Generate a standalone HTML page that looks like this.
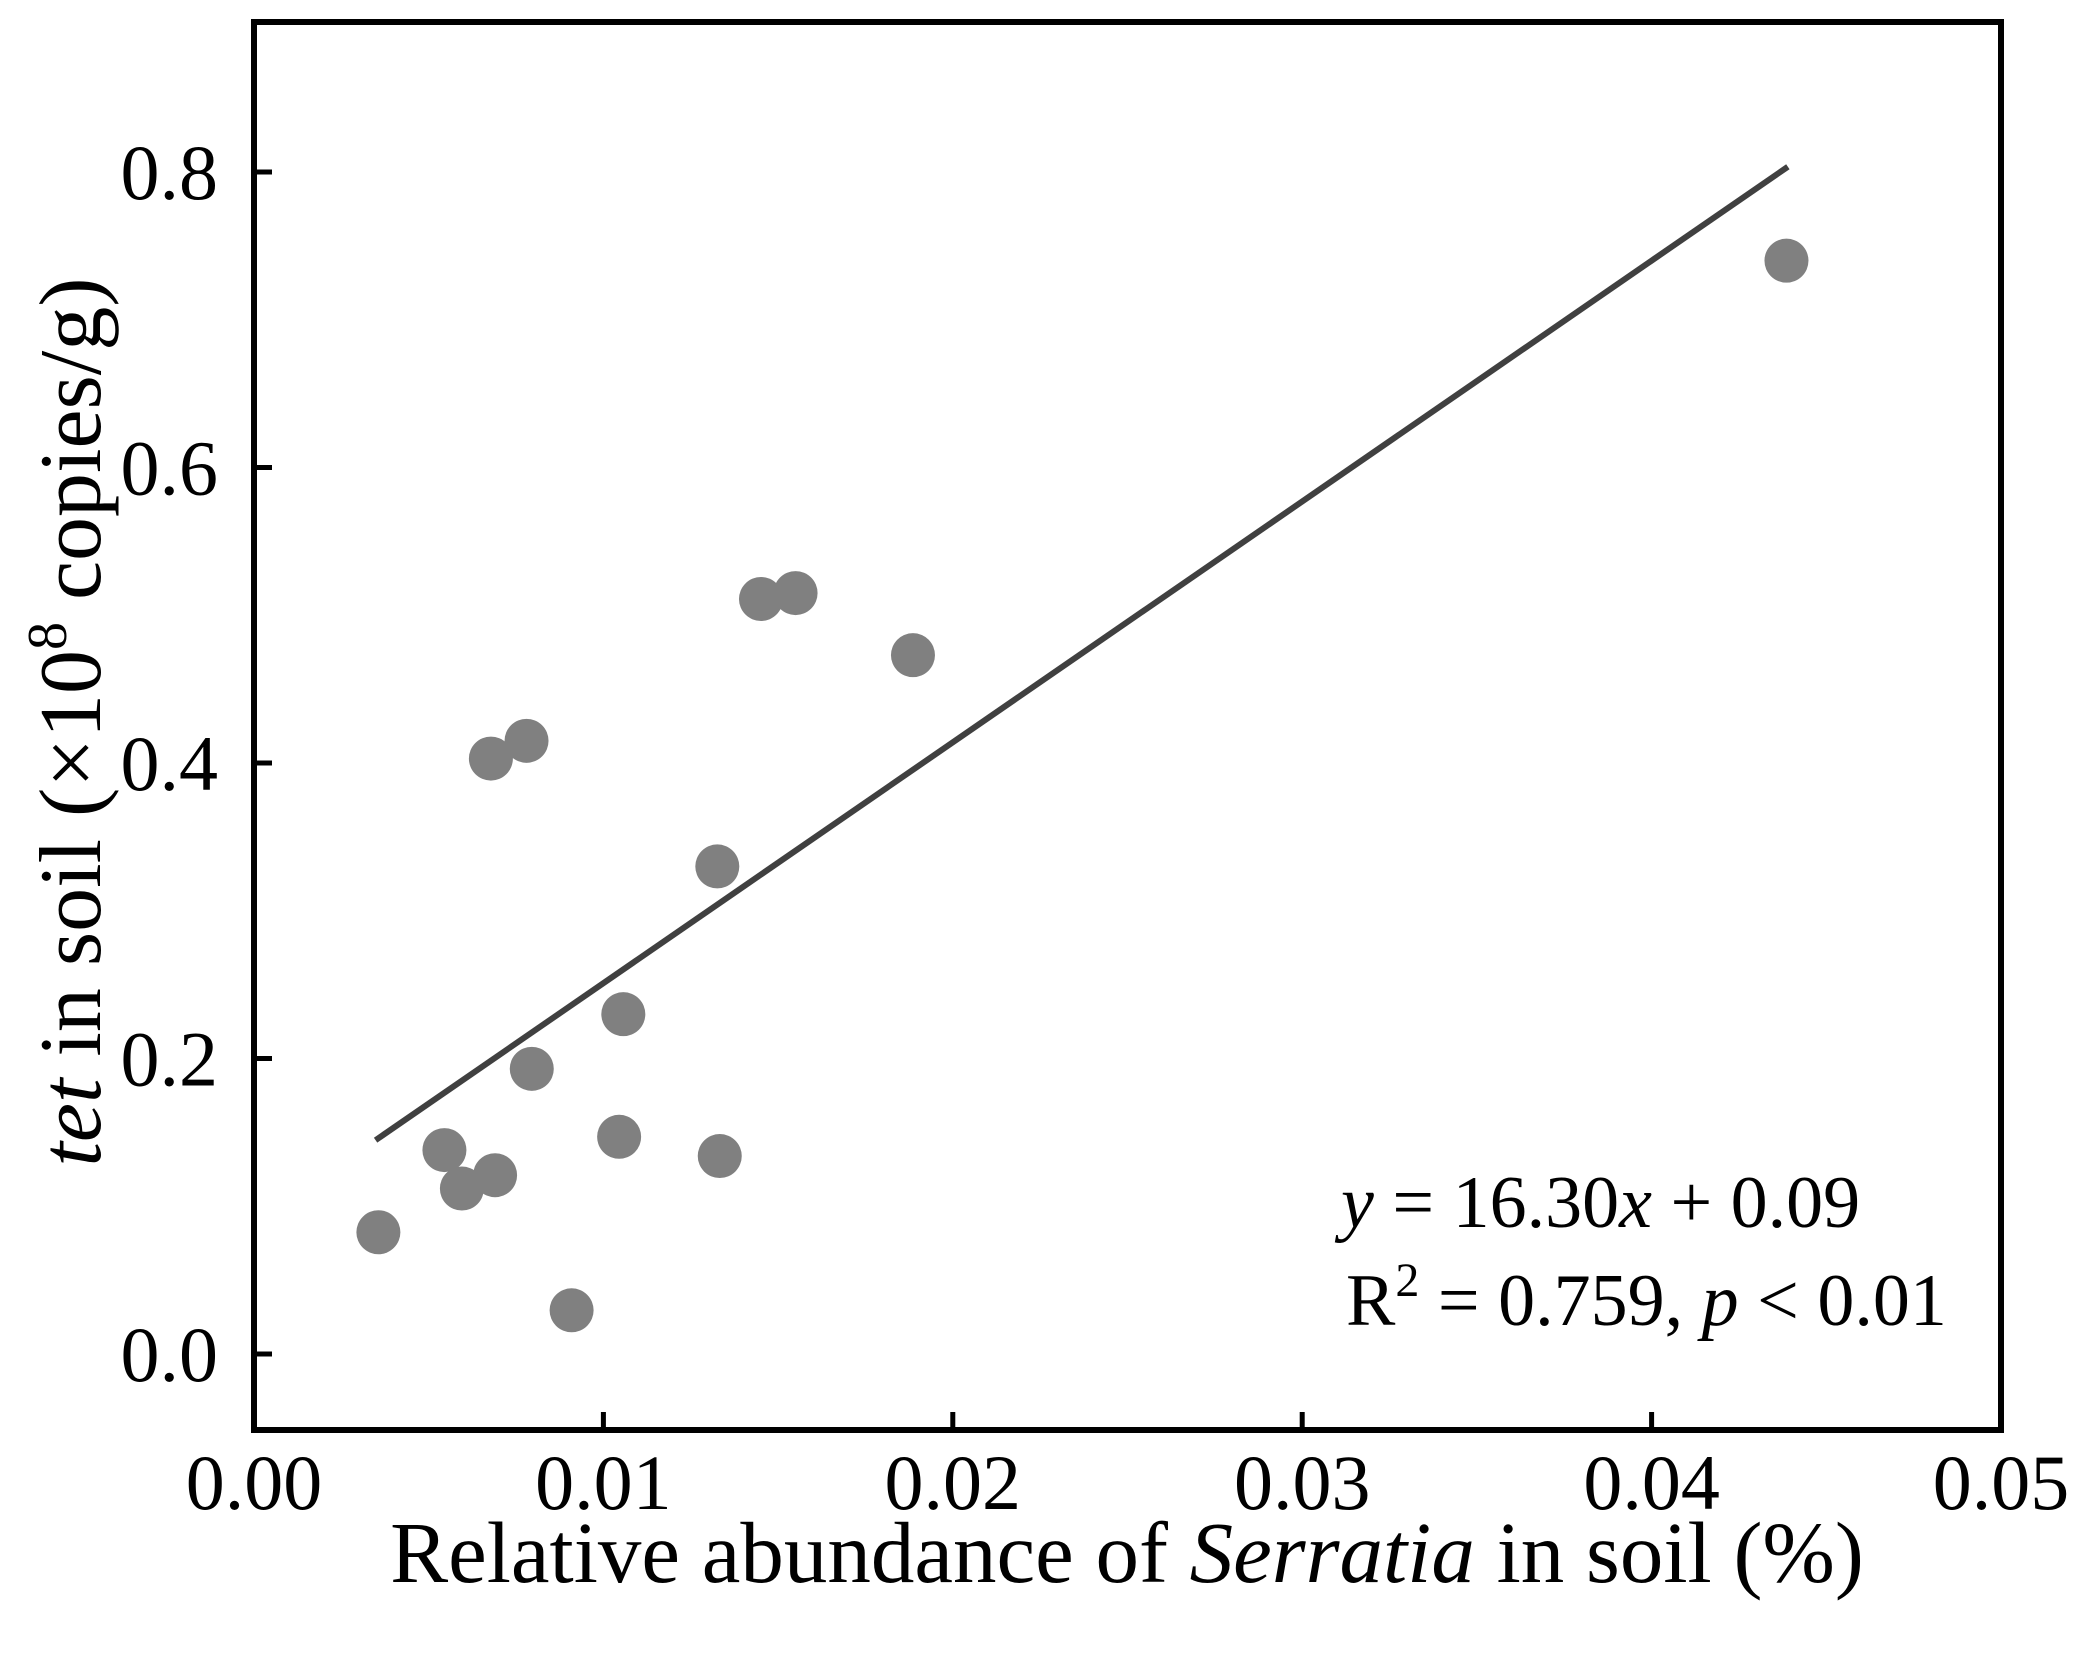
<!DOCTYPE html>
<html><head><meta charset="utf-8"><style>
body{margin:0;background:#fff}
svg{display:block;font-family:"Liberation Serif",serif}
</style></head><body>
<svg id="c" width="2076" height="1653" viewBox="0 0 2076 1653"></svg>
<script>
const xVals=[0.00356,0.00545,0.00595,0.0069,0.00909,0.00678,0.0078,0.00795,0.01045,0.01057,0.01326,0.01333,0.01451,0.0155,0.01886,0.04386];
const yVals=[0.0824,0.138,0.112,0.121,0.0296,0.403,0.415,0.193,0.147,0.230,0.330,0.134,0.511,0.515,0.473,0.740];
const xTicks=[0,0.01,0.02,0.03,0.04,0.05];
const xTickLabels=["0.00","0.01","0.02","0.03","0.04","0.05"];
const yTicks=[0,0.2,0.4,0.6,0.8];
const yTickLabels=["0.0","0.2","0.4","0.6","0.8"];
const fitSlope=16.30;
const fitIntercept=0.088;
const fitRange=[0.00348,0.0439];

const L=254,R=2001,T=22,B=1430;
const X=v=>L+(v-0)/0.05*(R-L);
const Y=v=>1354-(v/0.8)*(1354-172);
const svg=document.getElementById('c');
const NS='http://www.w3.org/2000/svg';
function mk(tag,attrs,parent){const e=document.createElementNS(NS,tag);for(const k in attrs)e.setAttribute(k,attrs[k]);(parent||svg).appendChild(e);return e;}

const pg=mk('g',{});


xVals.forEach((x,i)=>{const c=mk('circle',{cx:X(x),cy:Y(yVals[i]),r:22,fill:'#808080'},pg);

});

const fl=mk('line',{x1:X(fitRange[0]),y1:Y(fitSlope*fitRange[0]+fitIntercept),x2:X(fitRange[1]),y2:Y(fitSlope*fitRange[1]+fitIntercept),stroke:'#404040','stroke-width':6});



const fr=mk('rect',{x:L,y:T,width:R-L,height:B-T,fill:'none',stroke:'#000','stroke-width':6});



xTicks.forEach((t,i)=>{const x=X(t);
const tk=mk('line',{x1:x,y1:B,x2:x,y2:B-18,stroke:'#000','stroke-width':5});


const tx=mk('text',{x:x,y:1509,'font-size':78,'text-anchor':'middle'});tx.textContent=xTickLabels[i];

});
yTicks.forEach((t,i)=>{const y=Y(t);
const tk=mk('line',{x1:L,y1:y,x2:L+18,y2:y,stroke:'#000','stroke-width':5});


const tx=mk('text',{x:218,y:y+27,'font-size':78,'text-anchor':'end'});tx.textContent=yTickLabels[i];

});
</script>
<svg width="2076" height="1653" style="position:absolute;left:0;top:0" font-family="Liberation Serif, serif">
<text x="1127" y="1582" font-size="87" text-anchor="middle">Relative abundance of <tspan font-style="italic">Serratia</tspan> in soil (%)</text>
<text transform="translate(100,722) rotate(-90)" font-size="88" text-anchor="middle"><tspan font-style="italic">tet</tspan> in soil (×10<tspan font-size="56" dy="-34">8</tspan><tspan dy="34"> copies/g)</tspan></text>
<text x="1341" y="1227" font-size="74"><tspan font-style="italic">y</tspan> = 16.30<tspan font-style="italic">x</tspan> + 0.09</text>
<text x="1346" y="1325" font-size="74">R<tspan font-size="48" dy="-29">2</tspan><tspan dy="29"> = 0.759, </tspan><tspan font-style="italic">p</tspan> &lt; 0.01</text>
</svg>
</body></html>
